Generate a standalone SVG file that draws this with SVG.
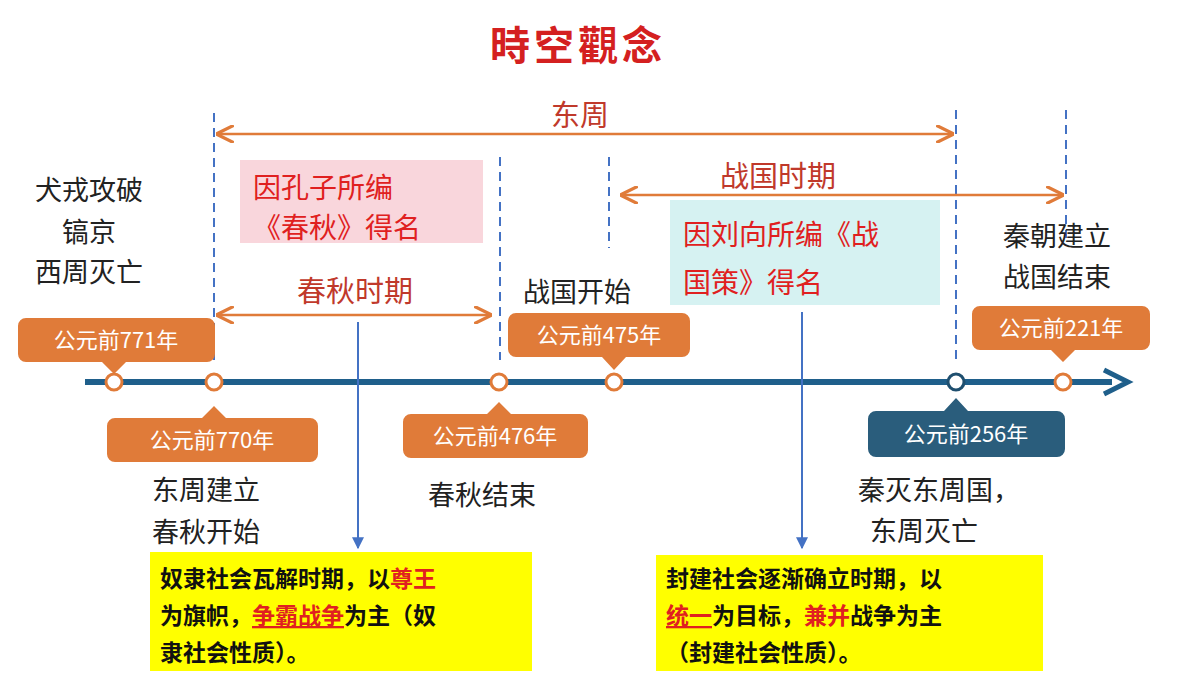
<svg xmlns="http://www.w3.org/2000/svg" width="1200" height="675" viewBox="0 0 1200 675">
<defs>
<style>
text{font-family:"Noto Sans CJK SC","Liberation Sans",sans-serif}
.t{font-size:27px;fill:#222}
.p{font-size:29px;fill:#c0392b}
.r{font-size:28px;fill:#e02020}
.c{font-size:22px;fill:#fff}
.y{font-size:23px;font-weight:bold;fill:#111}
.d{stroke:#4472c4;stroke-width:2;stroke-dasharray:9,6;fill:none}
.o{stroke:#e07b39;stroke-width:2.5;fill:none}
.b{stroke:#4472c4;stroke-width:2;fill:none}
</style>
<marker id="ao" viewBox="0 0 10 10" refX="9" refY="5" markerWidth="7" markerHeight="7" orient="auto-start-reverse"><path d="M0,0L10,5L0,10" fill="none" stroke="#e07b39" stroke-width="1.8"/></marker>
<marker id="ab" viewBox="0 0 10 10" refX="9" refY="5" markerWidth="6" markerHeight="6" orient="auto"><path d="M0,0L10,5L0,10z" fill="#4472c4"/></marker>
</defs>
<rect width="1200" height="675" fill="#fff"/>
<text x="578" y="60" text-anchor="middle" font-size="40" font-weight="bold" fill="#d42020" letter-spacing="4">時空觀念</text>

<g id="connectors">
<line x1="85" y1="382" x2="1112" y2="382" stroke="#1f5f8b" stroke-width="6"/>
<path d="M1104,370L1128,382L1104,394" fill="none" stroke="#1f5f8b" stroke-width="5"/>
<line class="d" x1="214" y1="113" x2="214" y2="360"/>
<line class="d" x1="500" y1="157" x2="500" y2="360"/>
<line class="d" x1="609" y1="157" x2="609" y2="248"/>
<line class="d" x1="956" y1="110" x2="956" y2="360"/>
<line class="d" x1="1066" y1="110" x2="1066" y2="238"/>
<line class="o" x1="218" y1="134" x2="952" y2="134" marker-start="url(#ao)" marker-end="url(#ao)"/>
<line class="o" x1="622" y1="195" x2="1062" y2="195" marker-start="url(#ao)" marker-end="url(#ao)"/>
<line class="o" x1="218" y1="315" x2="490" y2="315" marker-start="url(#ao)" marker-end="url(#ao)"/>
<line class="b" x1="358" y1="322" x2="358" y2="548" marker-end="url(#ab)"/>
<line class="b" x1="802" y1="312" x2="802" y2="548" marker-end="url(#ab)"/>
</g>

<g id="dots" stroke-width="3" fill="#fff">
<circle cx="114" cy="382" r="8" stroke="#e07b39"/>
<circle cx="214" cy="382" r="8" stroke="#e07b39"/>
<circle cx="499" cy="382" r="8" stroke="#e07b39"/>
<circle cx="614" cy="382" r="8" stroke="#e07b39"/>
<circle cx="956" cy="382" r="8" stroke="#1f4f6f"/>
<circle cx="1063" cy="382" r="8" stroke="#e07b39"/>
</g>

<g id="labels">
<text class="p" x="580" y="126" text-anchor="middle">东周</text>
<text class="p" x="778" y="187" text-anchor="middle">战国时期</text>
<text class="p" x="355" y="302" text-anchor="middle">春秋时期</text>
</g>

<g id="box-chunqiu">
<rect x="240" y="160" width="243" height="83" fill="#f9d6dc"/>
<text class="r" x="253" y="198">因孔子所编</text>
<text class="r" x="253" y="238">《春秋》得名</text>
</g>
<g id="box-zhanguoce">
<rect x="670" y="200" width="270" height="105" fill="#d6f2f2"/>
<text class="r" x="683" y="245">因刘向所编《战</text>
<text class="r" x="683" y="293">国策》得名</text>
</g>

<g id="events">
<text class="t" x="35" y="200">犬戎攻破</text>
<text class="t" x="62" y="242">镐京</text>
<text class="t" x="35" y="282">西周灭亡</text>
<text class="t" x="523" y="302">战国开始</text>
<text class="t" x="1003" y="246">秦朝建立</text>
<text class="t" x="1003" y="287">战国结束</text>
<text class="t" x="152" y="500">东周建立</text>
<text class="t" x="152" y="542">春秋开始</text>
<text class="t" x="428" y="505">春秋结束</text>
<text class="t" x="858" y="500">秦灭东周国，</text>
<text class="t" x="870" y="541">东周灭亡</text>
</g>

<g id="c771"><path d="M26,318H207a8,8 0 0 1 8,8V354a8,8 0 0 1-8,8H126L114,374L102,362H26a8,8 0 0 1-8-8V326a8,8 0 0 1 8-8z" fill="#e07b39"/><text class="c" x="116" y="348" text-anchor="middle">公元前771年</text></g>
<g id="c770"><path d="M115,418H202L214,406L226,418H310a8,8 0 0 1 8,8V454a8,8 0 0 1-8,8H115a8,8 0 0 1-8-8V426a8,8 0 0 1 8-8z" fill="#e07b39"/><text class="c" x="212" y="448" text-anchor="middle">公元前770年</text></g>
<g id="c476"><path d="M411,414H487L499,402L511,414H580a8,8 0 0 1 8,8V450a8,8 0 0 1-8,8H411a8,8 0 0 1-8-8V422a8,8 0 0 1 8-8z" fill="#e07b39"/><text class="c" x="495" y="444" text-anchor="middle">公元前476年</text></g>
<g id="c475"><path d="M516,313H682a8,8 0 0 1 8,8V349a8,8 0 0 1-8,8H626L614,370L602,357H516a8,8 0 0 1-8-8V321a8,8 0 0 1 8-8z" fill="#e07b39"/><text class="c" x="599" y="343" text-anchor="middle">公元前475年</text></g>
<g id="c256"><path d="M876,411H944L956,398L968,411H1057a8,8 0 0 1 8,8V449a8,8 0 0 1-8,8H876a8,8 0 0 1-8-8V419a8,8 0 0 1 8-8z" fill="#2a5d7c"/><text class="c" x="966" y="442" text-anchor="middle">公元前256年</text></g>
<g id="c221"><path d="M980,306H1142a8,8 0 0 1 8,8V342a8,8 0 0 1-8,8H1075L1063,362L1051,350H980a8,8 0 0 1-8-8V314a8,8 0 0 1 8-8z" fill="#e07b39"/><text class="c" x="1061" y="336" text-anchor="middle">公元前221年</text></g>

<g id="yellow-left">
<rect x="150" y="552" width="382" height="119" fill="#ffff00"/>
<text class="y" x="160" y="587">奴隶社会瓦解时期，以<tspan fill="#e02020">尊王</tspan></text>
<text class="y" x="160" y="624">为旗帜，<tspan fill="#e02020" text-decoration="underline">争霸战争</tspan>为主（奴</text>
<text class="y" x="160" y="661">隶社会性质）。</text>
</g>
<g id="yellow-right">
<rect x="656" y="555" width="387" height="116" fill="#ffff00"/>
<text class="y" x="666" y="587">封建社会逐渐确立时期，以</text>
<text class="y" x="666" y="624"><tspan fill="#e02020" text-decoration="underline">统一</tspan>为目标，<tspan fill="#e02020">兼并</tspan>战争为主</text>
<text class="y" x="666" y="661">（封建社会性质）。</text>
</g>
</svg>
